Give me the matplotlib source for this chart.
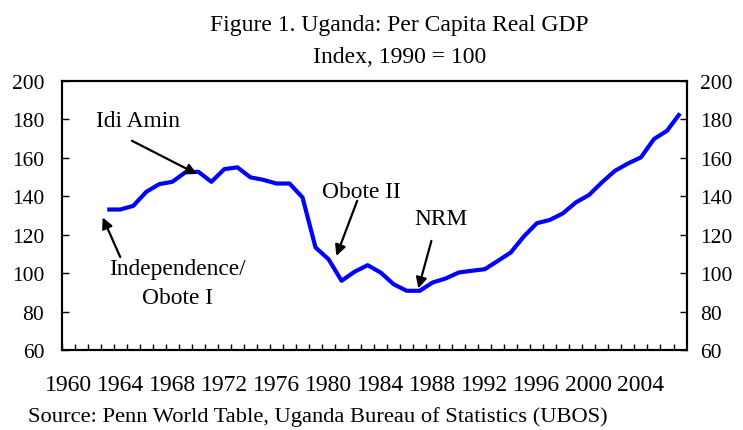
import matplotlib.pyplot as plt

plt.rcParams['font.family'] = 'Liberation Serif'

years = list(range(1963, 2008))
gdp_index = [133.2, 133.2, 135.1, 142.4, 146.4, 147.6, 152.5, 152.8, 147.6, 154.2,
             155.1, 149.9, 148.6, 146.7, 146.7, 139.5, 113.5, 107.4, 96.2, 100.9,
             104.3, 100.5, 94.4, 91.0, 91.0, 95.3, 97.4, 100.5, 101.4, 102.2,
             106.5, 110.9, 119.2, 126.1, 127.8, 131.2, 136.9, 140.7, 147.3, 153.3,
             157.1, 160.3, 169.8, 174.1, 183.1]
year_labels = list(range(1960, 2005, 4))
y_ticks = [60, 80, 100, 120, 140, 160, 180, 200]

# labels: text and its centre (year, index)
labels = [
    ('Idi Amin', (1965.4, 179.6)),
    ('Independence/\nObote I', (1968.4, 95.0)),
    ('Obote II', (1982.5, 142.8)),
    ('NRM', (1988.6, 128.5)),
]
# arrows: tail (year, index) -> head (year, index)
arrows = [
    ((1964.9, 168.9), (1969.9, 151.6)),
    ((1964.0, 108.5), (1962.65, 129.1)),
    ((1982.2, 137.7), (1980.6, 109.1)),
    ((1987.9, 116.9), (1986.9, 92.2)),
]

fig = plt.figure(figsize=(7.43, 4.31), dpi=100)
ax = fig.add_axes([0.083, 0.1845, 0.841, 0.6255])

ax.plot(years, gdp_index, color='#0000ff', lw=3.0, solid_capstyle='butt')

ax.set_xlim(1959.5, 2007.5)
ax.set_ylim(60, 200)
ax.set_yticks(y_ticks)
ax.set_xticks(year_labels)
ax.set_xticklabels([str(y) for y in year_labels])
ax.set_xticks([y + 0.5 for y in range(1959, 2007)], minor=True)

for s in ax.spines.values():
    s.set_linewidth(1.5)
ax.tick_params(axis='x', which='major', length=0, pad=17, labelsize=17)
ax.tick_params(axis='x', which='minor', direction='in', length=4, width=1)
ax.tick_params(axis='y', direction='in', length=5, width=1, labelsize=15.5, pad=12.5)

ax2 = ax.twinx()
ax2.set_ylim(60, 200)
ax2.set_yticks(y_ticks)
ax2.tick_params(axis='y', direction='in', length=5, width=1, labelsize=15.5, pad=9.6)
for s in ax2.spines.values():
    s.set_linewidth(1.5)

for text, pos in labels:
    ax.text(pos[0], pos[1], text, ha='center', va='center', fontsize=16.8,
            linespacing=1.5)
for tail, head in arrows:
    ax.annotate('', xy=head, xytext=tail,
                arrowprops=dict(arrowstyle='-|>', color='black', lw=1.6,
                                mutation_scale=16, shrinkA=0, shrinkB=0))

fig.text(0.538, 0.928, 'Figure 1. Uganda: Per Capita Real GDP', ha='center', va='baseline', fontsize=17)
fig.text(0.538, 0.854, 'Index, 1990 = 100', ha='center', va='baseline', fontsize=17)
fig.text(0.038, 0.021, 'Source: Penn World Table, Uganda Bureau of Statistics (UBOS)',
         ha='left', va='baseline', fontsize=16.2)

fig.savefig('out.png', dpi=100)
